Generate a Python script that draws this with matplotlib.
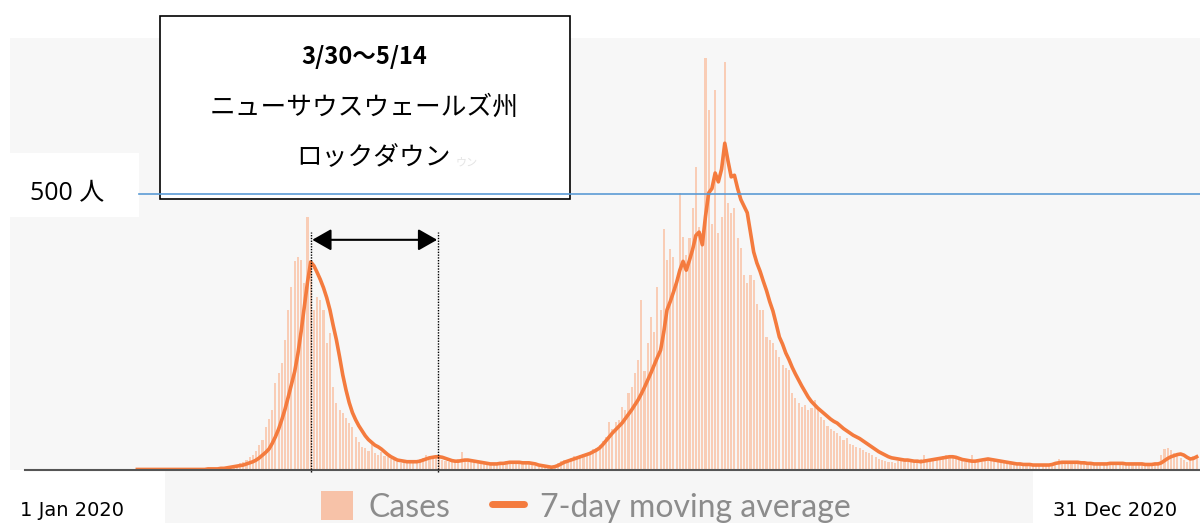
import matplotlib.pyplot as plt
import numpy as np
from matplotlib.patches import Rectangle, Patch
from matplotlib.lines import Line2D

# daily confirmed cases, 1 Jan 2020 .. 31 Dec 2020 (day index 0..365)
cases_jan = [0] * 25 + [1, 0, 2, 1, 2, 0]
cases_feb = [1, 0, 0, 1, 0, 0, 1, 0, 0, 0, 0, 0, 0, 0, 1, 0, 0, 0, 0, 0,
             1, 0, 0, 1, 0, 2, 1, 3, 2]
cases_mar = [2, 3, 5, 4, 6, 8, 9, 12, 15, 18, 24, 28, 35, 45, 54, 78, 92, 109, 157, 175,
             193, 235, 290, 331, 378, 385, 380, 339, 458, 375, 290]
cases_apr = [313, 308, 290, 230, 248, 150, 121, 109, 103, 95, 85, 78, 60, 50, 42, 40, 35, 49, 30, 28,
             33, 25, 24, 20, 18, 15, 12, 14, 13, 16]
cases_may = [18, 15, 20, 22, 27, 24, 25, 21, 24, 18, 17, 15, 14, 18, 20, 33, 17, 15, 16, 14,
             12, 10, 11, 12, 9, 11, 13, 14, 12, 16, 14]
cases_jun = [13, 15, 12, 13, 11, 14, 10, 8, 6, 5, 7, 5, 6, 9, 12, 16, 19, 18, 22, 25,
             23, 27, 29, 30, 33, 38, 40, 45, 52, 60]
cases_jul = [87, 75, 87, 90, 114, 108, 139, 150, 175, 199, 308, 180, 230, 277, 250, 332, 290, 437, 380, 400,
             386, 350, 502, 422, 390, 420, 475, 549, 440, 430, 746]
cases_aug = [652, 445, 688, 430, 458, 739, 484, 466, 475, 420, 402, 353, 339, 353, 345, 300, 290, 290, 241, 236,
             230, 217, 205, 190, 185, 181, 139, 130, 121, 115, 118]
cases_sep = [109, 112, 127, 110, 96, 90, 80, 75, 70, 67, 62, 55, 58, 48, 45, 42, 40, 36, 33, 31,
             28, 24, 20, 18, 16, 15, 14, 13, 16, 17]
cases_oct = [18, 15, 14, 17, 16, 20, 27, 18, 19, 17, 22, 20, 25, 27, 23, 21, 24, 19, 17, 15,
             14, 27, 16, 18, 15, 19, 21, 22, 17, 16, 14]
cases_nov = [15, 13, 12, 11, 12, 10, 9, 11, 10, 8, 9, 10, 8, 9, 10, 12, 14, 20, 13, 15,
             14, 16, 13, 12, 14, 13, 11, 12, 10, 11]
cases_dec = [12, 10, 11, 13, 12, 11, 12, 13, 10, 11, 12, 10, 11, 9, 10, 11, 10, 12, 15, 28,
             38, 40, 36, 30, 26, 22, 18, 14, 20, 26, 25]

# 7-day moving average, starts on day 35 (5 Feb)
avg_start = 35
avg_feb = [1] * 22 + [2, 2, 2]
avg_mar = [2, 3, 3, 4, 5, 6, 7, 8, 9, 11, 13, 15, 18, 22, 27, 32, 38, 48, 60, 74,
           91, 110, 132, 155, 178, 210, 250, 295, 340, 377, 370]
avg_apr = [358, 345, 330, 312, 290, 262, 236, 205, 172, 145, 122, 104, 91, 80, 71, 62, 55, 50, 45, 42,
           38, 33, 28, 24, 21, 18, 17, 16, 15, 15]
avg_may = [15, 15, 16, 18, 20, 22, 23, 24, 24, 23, 21, 19, 17, 16, 16, 17, 18, 18, 17, 16,
           15, 14, 13, 12, 11, 11, 11, 12, 12, 13, 14]
avg_jun = [14, 14, 14, 13, 13, 13, 12, 11, 9, 8, 7, 6, 5, 6, 8, 11, 14, 16, 18, 20,
           22, 24, 26, 28, 30, 33, 36, 40, 46, 53]
avg_jul = [60, 67, 73, 79, 85, 93, 101, 109, 118, 127, 138, 150, 163, 176, 190, 204, 217, 250, 290, 305,
           322, 340, 362, 378, 362, 380, 400, 425, 431, 408, 460]
avg_aug = [502, 510, 538, 522, 545, 592, 560, 531, 534, 510, 490, 478, 466, 430, 395, 375, 360, 342, 325, 305,
           288, 265, 241, 228, 212, 200, 186, 174, 163, 152, 142]
avg_sep = [132, 124, 118, 112, 107, 102, 97, 92, 88, 85, 80, 75, 71, 67, 63, 60, 57, 53, 49, 45,
           41, 37, 33, 30, 27, 24, 22, 21, 20, 19]
avg_oct = [18, 18, 17, 16, 16, 15, 16, 17, 18, 19, 20, 21, 22, 23, 24, 24, 23, 21, 19, 18,
           17, 16, 16, 17, 18, 19, 20, 19, 18, 17, 16]
avg_nov = [15, 14, 13, 12, 11, 11, 10, 10, 10, 9, 9, 9, 9, 9, 9, 10, 12, 13, 14, 14,
           14, 14, 14, 14, 13, 13, 12, 12, 11, 11]
avg_dec = [11, 11, 11, 12, 12, 12, 12, 12, 11, 11, 11, 11, 11, 11, 10, 10, 10, 11, 11, 13,
           17, 21, 24, 26, 28, 29, 27, 23, 20, 21, 24]

threshold = 500
lockdown_text = ['3/30〜5/14', 'ニューサウスウェールズ州', 'ロックダウン']
date_labels = ['1 Jan 2020', '31 Dec 2020']
legend_labels = ['Cases', '7-day moving average']

BAR_COLOR = '#f9cdb6'
SWATCH_COLOR = '#f7c2a8'
LINE_COLOR = '#f47b3e'
BLUE = '#5b9bd5'

cases = np.array(cases_jan + cases_feb + cases_mar + cases_apr + cases_may + cases_jun +
                 cases_jul + cases_aug + cases_sep + cases_oct + cases_nov + cases_dec)
avg7 = np.array(avg_feb + avg_mar + avg_apr + avg_may + avg_jun + avg_jul +
                avg_aug + avg_sep + avg_oct + avg_nov + avg_dec)
days = np.arange(len(cases))
avg_days = np.arange(avg_start, avg_start + len(avg7))

W, H = 1200, 523
fig = plt.figure(figsize=(W / 100, H / 100), dpi=100)


def fx(px):
	return px / W


def fy(py):
	return 1 - py / H


X0_PX = 25     # pixel of day 0
PX_DAY = 3.21  # pixels per day
ax = fig.add_axes([fx(10), fy(470), fx(1200) - fx(10), fy(38) - fy(470)])
ax.set_facecolor('#f7f7f7')
for s in ax.spines.values():
	s.set_visible(False)
ax.set_xticks([])
ax.set_yticks([])
ax.set_xlim((10 - X0_PX) / PX_DAY, (1200 - X0_PX) / PX_DAY)
ax.set_ylim(0, 432 / 0.552)

ax.bar(days, cases, width=0.66, color=BAR_COLOR, linewidth=0, zorder=2)
ax.plot(avg_days, avg7, color=LINE_COLOR, lw=2.6, zorder=3, solid_joinstyle='round')
ax.axhline(0, xmin=(X0_PX - 10) / 1190, color='#555555', lw=1.5, zorder=4, clip_on=False)

# lockdown markers
mark_a, mark_b = 89.0, 128.7
ax.vlines([mark_a, mark_b], -3, 431, colors='black', linestyles=(0, (1, 1)), lw=1, zorder=4, clip_on=False)
ax.annotate('', xy=(mark_a + 0.5, 417), xytext=(mark_b - 0.3, 417),
            arrowprops=dict(arrowstyle='<|-|>,head_length=0.58,head_width=0.33', color='black',
                            lw=1.5, mutation_scale=20, shrinkA=0, shrinkB=0), zorder=4)

# annotation box + 500 line
ax.add_artist(Rectangle((fx(160), fy(199)), fx(570) - fx(160), fy(16) - fy(199), transform=fig.transFigure,
                        facecolor='white', edgecolor='black', lw=1.2, zorder=5, clip_on=False))
ax.add_artist(Rectangle((fx(10), fy(217)), fx(139) - fx(10), fy(153) - fy(217), transform=fig.transFigure,
                        facecolor='white', edgecolor='none', zorder=5, clip_on=False))
ax.axhline(threshold, xmin=(139 - 10) / 1190, color=BLUE, lw=1.2, zorder=6, clip_on=False)

cjk = ['Noto Sans CJK JP', 'DejaVu Sans']
ax.text(fx(364), fy(57), lockdown_text[0], transform=fig.transFigure, ha='center', va='center',
        fontsize=17, fontweight='bold', family=cjk, zorder=7)
ax.text(fx(364), fy(108), lockdown_text[1], transform=fig.transFigure, ha='center', va='center',
        fontsize=18.5, family=cjk, zorder=7)
ax.text(fx(374), fy(158), lockdown_text[2], transform=fig.transFigure, ha='center', va='center',
        fontsize=18.5, family=cjk, zorder=7)
ax.text(fx(467), fy(163), 'ウン', transform=fig.transFigure, ha='center', va='center',
        fontsize=8, color='#e4e4e4', family=cjk, zorder=7)
ax.text(fx(30), fy(194), f'{threshold} 人', transform=fig.transFigure, ha='left', va='center',
        fontsize=18, family=['Open Sans', 'Noto Sans CJK JP'], zorder=7)

# legend strip and date labels
ax.add_artist(Rectangle((fx(165), 0), fx(1033) - fx(165), fy(471), transform=fig.transFigure,
                        facecolor='#f6f6f6', edgecolor='none', zorder=0, clip_on=False))
fig.text(fx(20), fy(510), date_labels[0], ha='left', va='center', fontsize=14)
fig.text(fx(1053), fy(510), date_labels[1], ha='left', va='center', fontsize=14)

handles = [Patch(facecolor=SWATCH_COLOR, edgecolor='none'),
           Line2D([], [], color=LINE_COLOR, lw=5, solid_capstyle='round')]
fig.legend(handles, legend_labels, loc='center', bbox_to_anchor=(fx(586), fy(507)), ncol=2,
           frameon=False, prop={'family': 'Lato', 'size': 23}, labelcolor='#8c8c8c',
           handlelength=1.0, handleheight=1.0, handletextpad=0.5, columnspacing=1.3)

fig.savefig('out.png', dpi=100)
